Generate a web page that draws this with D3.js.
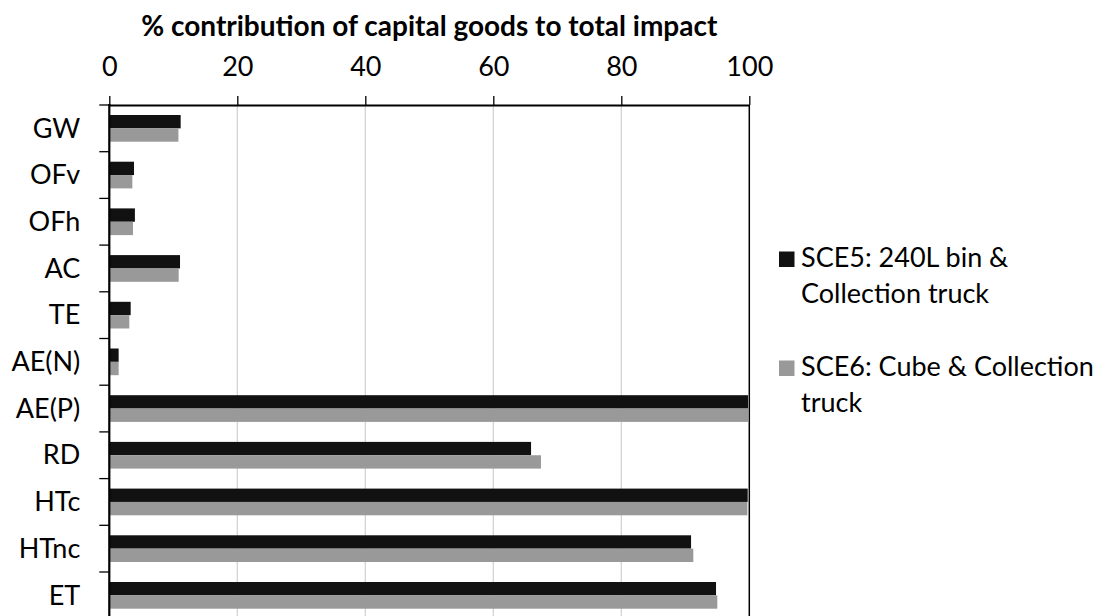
<!DOCTYPE html>
<html>
<head>
<meta charset="utf-8">
<script src="https://cdn.jsdelivr.net/npm/d3@7/dist/d3.min.js"></script>
<style>
  html, body { margin: 0; padding: 0; background: #fff; }
  svg { display: block; font-family: Lato, "Open Sans", sans-serif; }
</style>
</head>
<body>
<svg id="chart" width="1102" height="616"></svg>
<script>
const categories = ["GW", "OFv", "OFh", "AC", "TE", "AE(N)", "AE(P)", "RD", "HTc", "HTnc", "ET"];
const sce5Values = [11.15, 3.86, 4.0, 11.05, 3.34, 1.46, 99.8, 65.9, 99.75, 90.9, 94.8];
const sce6Values = [10.8, 3.6, 3.7, 10.84, 3.13, 1.46, 99.8, 67.45, 99.7, 91.25, 95.0];
const seriesNames = ["SCE5: 240L bin & Collection truck", "SCE6: Cube & Collection truck"];
const legendLines = [["SCE5: 240L bin &", "Collection truck"], ["SCE6: Cube & Collection", "truck"]];
const xTicks = [0, 20, 40, 60, 80, 100];
const chartTitle = "% contribution of capital goods to total impact";

const colors = ["#111111", "#999999"];
const series = [sce5Values, sce6Values];

const svg = d3.select("#chart");
const plotLeft = 109.3, plotRight = 749.3, plotTop = 105, bandStep = 46.7;
const fs = 27;

const x = d3.scaleLinear().domain([0, 100]).range([plotLeft, plotRight]);
const y = d3.scaleBand().domain(categories)
  .range([plotTop, plotTop + bandStep * categories.length])
  .paddingInner(20 / 46.7).paddingOuter(10 / 46.7);
const inner = d3.scaleBand().domain([0, 1]).range([0, y.bandwidth()]);

// gridlines
svg.append("g").selectAll("line").data(xTicks.filter(d => d > 0 && d < 100)).join("line")
  .attr("x1", d => x(d)).attr("x2", d => x(d))
  .attr("y1", plotTop).attr("y2", 640)
  .attr("stroke", "#d0d0d0").attr("stroke-width", 1.2);

// bars
series.forEach((vals, si) => {
  svg.append("g").selectAll("rect").data(vals).join("rect")
    .attr("x", x(0))
    .attr("y", (d, i) => y(categories[i]) + inner(si))
    .attr("width", d => x(d) - x(0))
    .attr("height", inner.bandwidth())
    .attr("fill", colors[si]);
});

// right frame
svg.append("line").attr("x1", plotRight).attr("x2", plotRight).attr("y1", plotTop).attr("y2", 640)
  .attr("stroke", "#000").attr("stroke-width", 1.5);

// top axis
const xAxis = d3.axisTop(x).tickValues(xTicks).tickSize(9).tickPadding(20).tickSizeOuter(0);
const gx = svg.append("g").attr("transform", `translate(0,${plotTop})`).call(xAxis);
gx.select(".domain").attr("stroke-width", 2.2);
gx.selectAll(".tick line").attr("stroke-width", 1.3);
gx.selectAll("text").attr("font-size", fs).attr("fill", "#000").attr("font-family", "Lato, sans-serif");

// left axis labels
const yAxis = d3.axisLeft(y).tickSize(0).tickPadding(29);
const gy = svg.append("g").attr("transform", `translate(${plotLeft},0)`).call(yAxis);
gy.select(".domain").remove();
gy.selectAll("text").attr("font-size", fs).attr("dy", "0.34em").attr("fill", "#000").attr("font-family", "Lato, sans-serif");

// left axis line and boundary ticks
svg.append("line").attr("x1", plotLeft).attr("x2", plotLeft).attr("y1", plotTop - 1).attr("y2", 640)
  .attr("stroke", "#000").attr("stroke-width", 2.2);
svg.append("g").selectAll("line").data(d3.range(categories.length + 1)).join("line")
  .attr("x1", plotLeft - 10).attr("x2", plotLeft)
  .attr("y1", i => y.range()[0] + i * y.step())
  .attr("y2", i => y.range()[0] + i * y.step())
  .attr("stroke", "#000").attr("stroke-width", 1.3);

// title
svg.append("text").attr("x", (plotLeft + plotRight) / 2).attr("y", 36)
  .attr("text-anchor", "middle").attr("font-weight", "bold").attr("font-size", 28)
  .attr("fill", "#000").text(chartTitle);

// legend
const legendBaselines = [267, 376];
const lg = svg.append("g");
legendLines.forEach((lines, i) => {
  lg.append("rect").attr("x", 779).attr("y", legendBaselines[i] - 15.5).attr("width", 15.5).attr("height", 15.5)
    .attr("fill", colors[i]);
  lines.forEach((t, j) => {
    lg.append("text").attr("x", 801).attr("y", legendBaselines[i] + j * 36)
      .attr("font-size", fs).attr("fill", "#000").text(t);
  });
});
</script>
</body>
</html>
